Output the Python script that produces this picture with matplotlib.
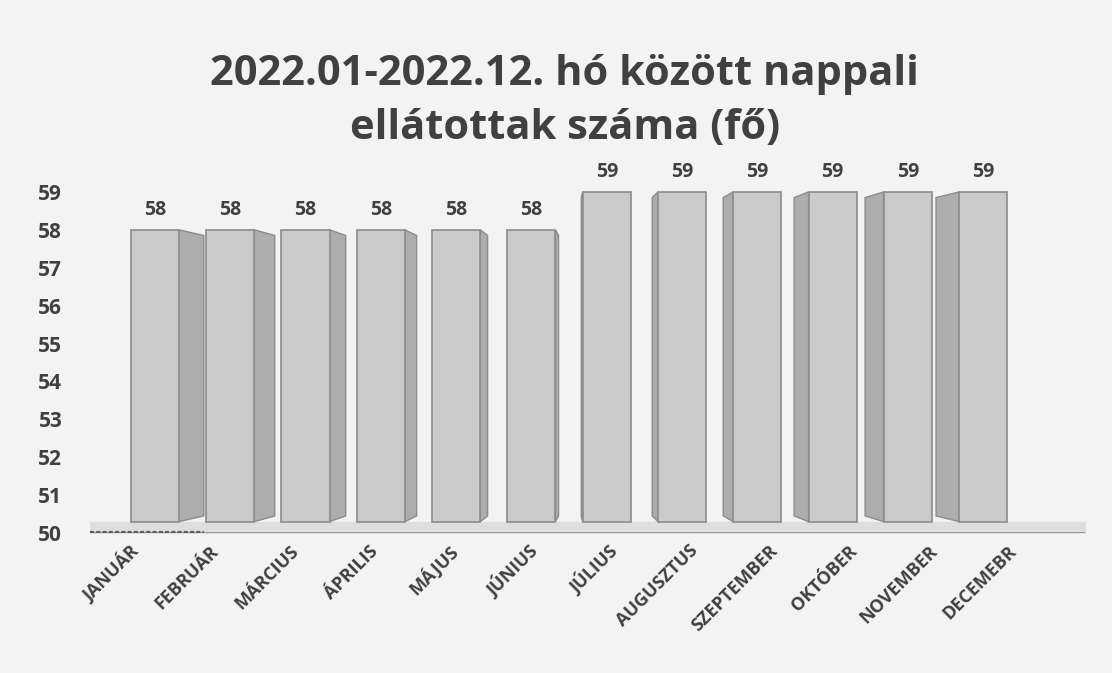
"""
nappali ellatottak szama 2022 - 3D-look bar chart
"""
import numpy as np
import matplotlib
matplotlib.use('Agg')
import matplotlib.pyplot as plt

# data
months = ['JANUÁR', 'FEBRUÁR', 'MÁRCIUS', 'ÁPRILIS', 'MÁJUS', 'JÚNIUS',
          'JÚLIUS', 'AUGUSZTUS', 'SZEPTEMBER', 'OKTÓBER', 'NOVEMBER', 'DECEMEBR']
values = [58, 58, 58, 58, 58, 58, 59, 59, 59, 59, 59, 59]
yticks = [50, 51, 52, 53, 54, 55, 56, 57, 58, 59]
title = '2022.01-2022.12. hó között nappali\nellátottak száma (fő)'

TXT = '#404040'
plt.rcParams['font.family'] = ['Open Sans', 'DejaVu Sans']

fig = plt.figure(figsize=(11.12, 6.73), dpi=100, facecolor='#f3f3f3')
ax = fig.add_axes([90/1112, 140/673, 995/1112, 379/673])
ax.set_facecolor('none')

x = np.arange(len(values))
vals = np.array(values, dtype=float)
w = 0.64
base = 50.3  # front face sits a bit above the floor line

# floor slab and base line
ax.fill_between([-0.86, 12.35], 50, base, color='#dedede', zorder=1)
ax.axhline(50, color='#909090', lw=2, zorder=2)
ax.plot([-0.86, 0.65], [50, 50], color='#5e5e5e', lw=3, ls=(0, (1, 0.5)), zorder=3)

# side faces (perspective: left bars show right side, right bars show left side)
depth = 0.058 * (5.7 - x)
for xi, v, d in zip(x, vals, depth):
    edge = xi + w/2 if d > 0 else xi - w/2
    px = [edge, edge + d, edge + d, edge]
    py = [v, v - 0.15, base + 0.15, base]
    ax.fill(px, py, facecolor='#adadad', edgecolor='#8c8c8c', lw=1, zorder=4)

# front faces
ax.bar(x, vals - base, bottom=base, width=w, color='#cacaca',
       edgecolor='#8c8c8c', linewidth=1.2, zorder=5)

# value labels
for xi, v in zip(x, values):
    ax.text(xi, v + 0.52, str(v), ha='center', va='center', fontsize=14,
            fontweight='bold', color=TXT, zorder=6)

# category labels (rotated, spread slightly wider than the bars)
ax.set_xticks([])
for xi, name in zip(x, months):
    ax.text(xi * 1.06 - 0.25, 49.6, name, rotation=45, rotation_mode='anchor',
            ha='right', va='center', fontsize=13, fontweight='bold', color=TXT)

ax.set_xlim(-0.86, 12.35)
ax.set_ylim(50, 60)
ax.set_yticks(yticks)
ax.set_yticklabels([str(t) for t in yticks], fontsize=15, fontweight='bold', color=TXT)
ax.tick_params(axis='y', length=0, pad=20)
for s in ax.spines.values():
    s.set_visible(False)

fig.text(0.508, 0.849, title, ha='center', va='center', fontsize=30,
         fontweight='bold', color=TXT, linespacing=1.42)

fig.savefig('out.png', dpi=100, facecolor=fig.get_facecolor())
